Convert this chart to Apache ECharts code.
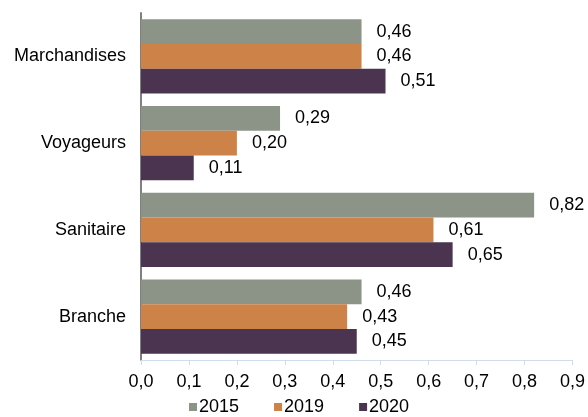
<!DOCTYPE html>
<html><head><meta charset="utf-8">
<script src="https://cdn.jsdelivr.net/npm/echarts@6/dist/echarts.min.js"></script>
<style>html,body{margin:0;padding:0;background:#fff}#c{width:588px;height:417px}</style>
</head><body><div id="c"></div>
<script>
const categories = ['Marchandises', 'Voyageurs', 'Sanitaire', 'Branche'];
const seriesNames = ['2015', '2019', '2020'];
const values2015 = [0.46, 0.29, 0.82, 0.46];
const values2019 = [0.46, 0.20, 0.61, 0.43];
const values2020 = [0.51, 0.11, 0.65, 0.45];
const xTicks = { min: 0, max: 0.9, interval: 0.1 };
const colors = ['#8C9488', '#CD8248', '#4B3450'];
const FONT = '"Liberation Sans", Arial, sans-serif';
const FS = 18;
const fmt = v => v.toFixed(2).replace('.', ',');
const chart = echarts.init(document.getElementById('c'), null, {renderer: 'canvas'});
const mk = (name, data, i) => ({
  name, type: 'bar', data, barGap: '0%', barCategoryGap: '14.6%',
  itemStyle: { color: colors[i] },
  label: { show: true, position: 'right', distance: 15, color: '#000',
    fontFamily: FONT, fontSize: FS, formatter: p => fmt(p.value) }
});
chart.setOption({
  animation: false,
  grid: { left: 141, right: 15, top: 13, bottom: 57, containLabel: false },
  legend: { top: 398, left: 189, padding: 0, itemWidth: 8, itemHeight: 8, itemGap: 35,
    icon: 'rect', textStyle: { fontFamily: FONT, fontSize: FS, color: '#000', padding: [0,0,0,-3] },
    data: seriesNames },
  xAxis: { type: 'value', min: xTicks.min, max: xTicks.max, interval: xTicks.interval,
    axisLine: { show: true, lineStyle: { color: '#D0DCEA', width: 1 } },
    axisTick: { show: true, length: 5, lineStyle: { color: '#D0DCEA' } },
    splitLine: { show: false },
    axisLabel: { margin: 13, color: '#000', fontFamily: FONT, fontSize: FS,
      formatter: v => v.toFixed(1).replace('.', ',') } },
  yAxis: { type: 'category', data: categories, inverse: true,
    axisLine: { show: true, lineStyle: { color: '#808080', width: 2 } },
    axisTick: { show: false },
    axisLabel: { margin: 15, color: '#000', fontFamily: FONT, fontSize: FS } },
  series: [mk(seriesNames[0], values2015, 0), mk(seriesNames[1], values2019, 1), mk(seriesNames[2], values2020, 2)]
});
</script></body></html>
